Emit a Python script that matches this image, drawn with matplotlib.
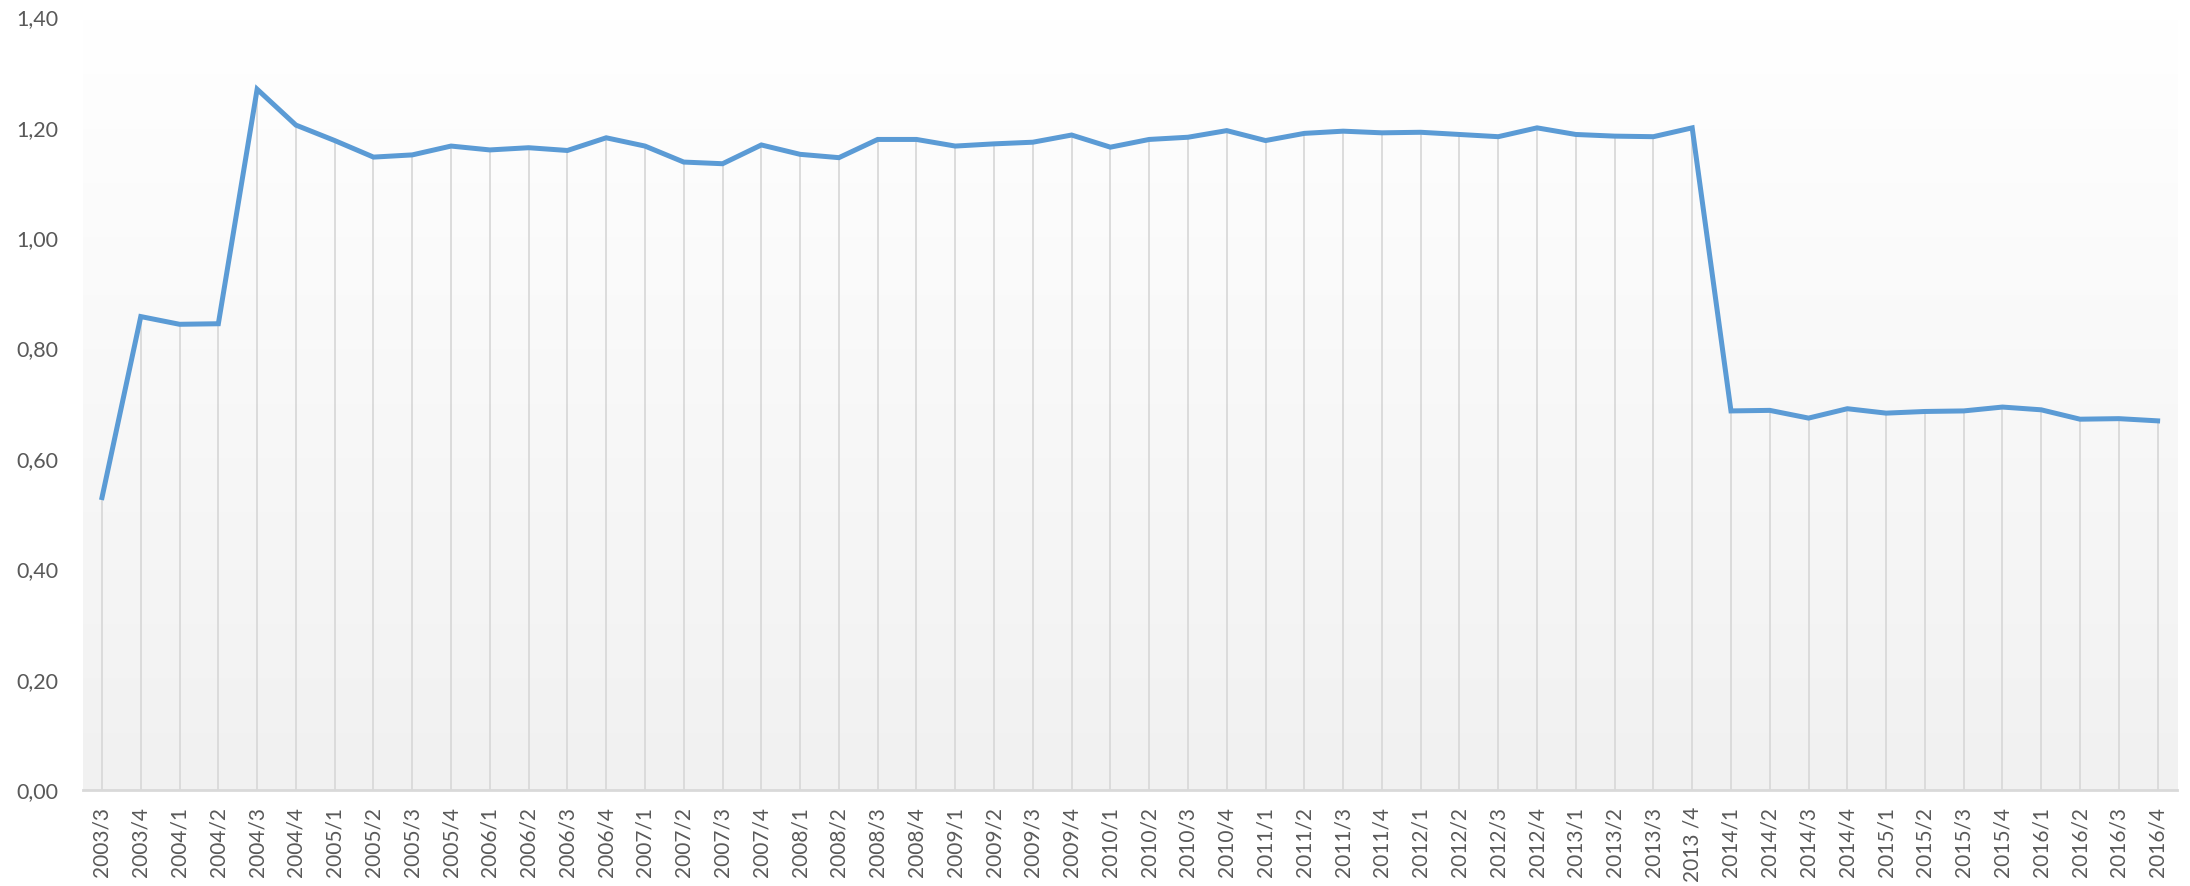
import matplotlib
matplotlib.use("Agg")
import matplotlib.pyplot as plt
import numpy as np
from matplotlib.ticker import FuncFormatter, FixedLocator
from matplotlib.colors import LinearSegmentedColormap

labels = ["2003/3", "2003/4",
          "2004/1", "2004/2", "2004/3", "2004/4",
          "2005/1", "2005/2", "2005/3", "2005/4",
          "2006/1", "2006/2", "2006/3", "2006/4",
          "2007/1", "2007/2", "2007/3", "2007/4",
          "2008/1", "2008/2", "2008/3", "2008/4",
          "2009/1", "2009/2", "2009/3", "2009/4",
          "2010/1", "2010/2", "2010/3", "2010/4",
          "2011/1", "2011/2", "2011/3", "2011/4",
          "2012/1", "2012/2", "2012/3", "2012/4",
          "2013/1", "2013/2", "2013/3", "2013 /4",
          "2014/1", "2014/2", "2014/3", "2014/4",
          "2015/1", "2015/2", "2015/3", "2015/4",
          "2016/1", "2016/2", "2016/3", "2016/4"]

values = [0.530, 0.858,
          0.844, 0.845, 1.270, 1.205,
          1.177, 1.147, 1.151, 1.167,
          1.160, 1.164, 1.159, 1.182,
          1.167, 1.138, 1.135, 1.169,
          1.152, 1.146, 1.179, 1.179,
          1.167, 1.171, 1.174, 1.187,
          1.165, 1.179, 1.183, 1.195,
          1.177, 1.190, 1.194, 1.191,
          1.192, 1.188, 1.184, 1.200,
          1.188, 1.185, 1.184, 1.200,
          0.687, 0.688, 0.674, 0.691,
          0.683, 0.686, 0.687, 0.694,
          0.689, 0.672, 0.673, 0.669]

y_ticks = [0.0, 0.2, 0.4, 0.6, 0.8, 1.0, 1.2, 1.4]

plt.rcParams['font.family'] = ['Lato', 'DejaVu Sans']

W, H = 2190, 886
fig = plt.figure(figsize=(W / 100, H / 100), dpi=100)
fig.patch.set_facecolor('white')
left, right, top, bottom = 82.6, 2177, 17.5, 790
ax = fig.add_axes([left / W, (H - bottom) / H, (right - left) / W, (bottom - top) / H])

x = np.arange(len(values))
ax.set_xlim(-0.5, len(values) - 0.5)
ax.set_ylim(0, 1.4)

grad = np.linspace(0, 1, 256).reshape(-1, 1)
cmap = LinearSegmentedColormap.from_list("bg", ["#f1f1f1", "#ffffff"])
ax.imshow(grad, aspect='auto', cmap=cmap, origin='lower',
          extent=(-0.5, len(values) - 0.5, 0, 1.4), zorder=0)

ax.vlines(x, 0, values, colors="#d9d9d9", linewidth=1.3, zorder=1)
ax.plot(x, values, color="#5b9bd5", linewidth=3.6, solid_joinstyle='miter', zorder=3)

for s in ["top", "right", "left"]:
    ax.spines[s].set_visible(False)
ax.spines["bottom"].set_color("#d9d9d9")
ax.spines["bottom"].set_linewidth(2)
ax.spines["bottom"].set_zorder(2)

ax.xaxis.set_major_locator(FixedLocator(x))
ax.set_xticklabels(labels, rotation=90, fontsize=15, color="#595959")
ax.yaxis.set_major_locator(FixedLocator(y_ticks))
ax.yaxis.set_major_formatter(FuncFormatter(lambda v, p: f"{v:.2f}".replace('.', ',')))
ax.tick_params(axis='y', length=0, pad=17.5, labelsize=15.5, labelcolor="#595959")
ax.tick_params(axis='x', length=0, pad=12)

fig.savefig("out.png", dpi=100)
